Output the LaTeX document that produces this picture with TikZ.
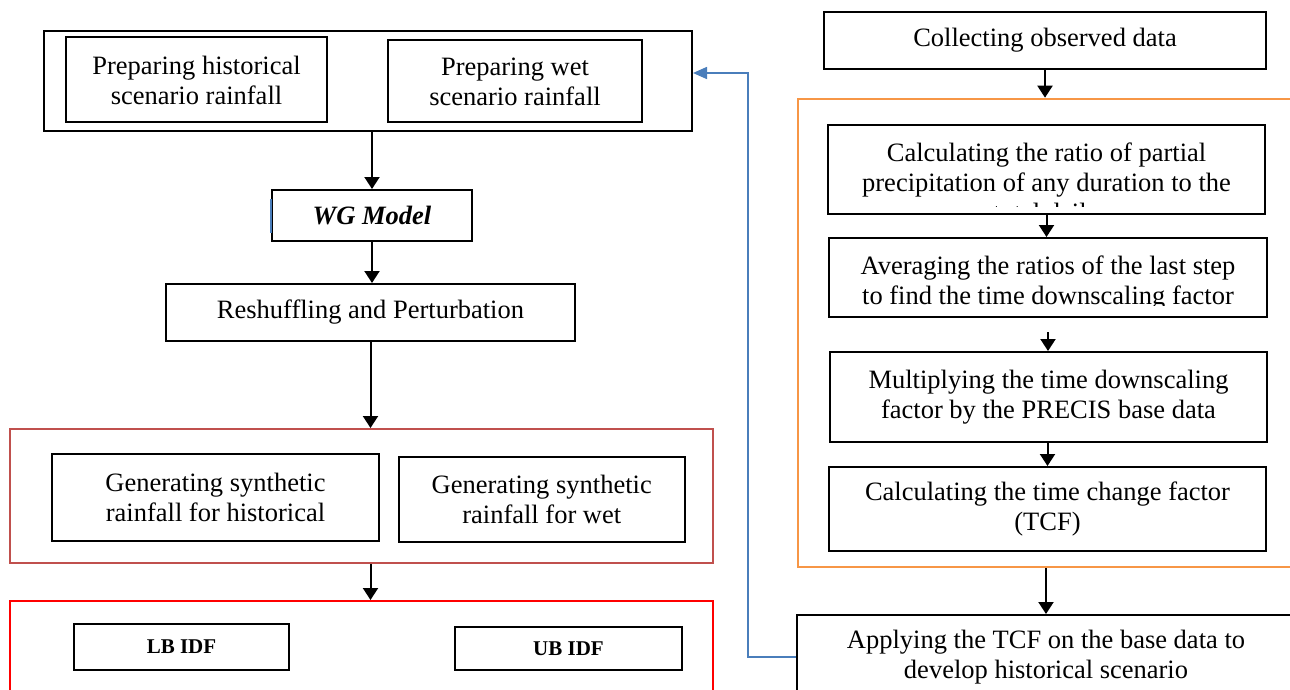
\documentclass[tikz,border=0pt]{standalone}
\usepackage{fontspec}
\setmainfont{Liberation Serif}
\usetikzlibrary{arrows.meta}
\definecolor{wireblue}{HTML}{4A7EBB}
\definecolor{framebrown}{HTML}{C0504D}
\definecolor{frameorange}{HTML}{F79646}

\begin{document}
\begin{tikzpicture}[x=0.5pt,y=-0.5pt,
  font=\fontsize{13.25}{15}\selectfont,
  box/.style={draw, line width=1pt, align=center, inner sep=0pt},
  frame/.style={draw, line width=1pt, inner sep=0pt},
  idf/.style={box, font=\fontsize{10.5}{12}\selectfont\bfseries},
  flow/.style={-{Triangle[length=6pt,width=7.5pt]}, line width=1pt},
  feedback/.style={-{Triangle[length=7pt,width=6pt]}, line width=0.8pt, draw=wireblue}]
\useasboundingbox (0,0) rectangle (1290,690);
\clip (0,0) rectangle (1290,690);

% left column
\node[frame, minimum width=324pt, minimum height=50pt] (frameTop) at (368,81) {};
\node[box, minimum width=130.5pt, minimum height=42.5pt] (prepHist) at (196.5,80) {Preparing historical\\scenario rainfall};
\node[box, minimum width=127pt, minimum height=41pt] (prepWet) at (515,81.5) {Preparing wet\\scenario rainfall};

\node[box, minimum width=99.75pt, minimum height=25.5pt] (wg) at (372,215.5) {\textbf{\textit{WG Model}}};
\draw[wireblue, line width=1pt] ([yshift=-5pt]wg.north west) -- ([yshift=4.5pt]wg.south west);

\node[box, minimum width=204.5pt, minimum height=28.5pt] (resh) at (370.5,312.5) {Reshuffling and Perturbation};

\node[frame, draw=framebrown, minimum width=351.5pt, minimum height=67pt] (frameGen) at (361.5,496) {};
\node[box, minimum width=163.5pt, minimum height=43.5pt] (genHist) at (215.5,497.5) {Generating synthetic\\rainfall for historical};
\node[box, minimum width=143.25pt, minimum height=42.5pt] (genWet) at (541.75,499.5) {Generating synthetic\\rainfall for wet};

\node[frame, draw=red, minimum width=351.5pt, minimum height=69.5pt] (frameIdf) at (361.5,670.5) {};
\node[idf, minimum width=107.5pt, minimum height=23pt] (lb) at (181.5,647) {LB IDF};
\node[idf, minimum width=113.5pt, minimum height=21.5pt] (ub) at (568.5,648.5) {UB IDF};

\draw[flow] (wg.north |- frameTop.south) -- (wg.north);
\draw[flow] (wg.south) -- (wg.south |- resh.north);
\draw[flow] (resh.south) -- (resh.south |- frameGen.north);
\draw[flow] (frameGen.south -| resh.south) -- (resh.south |- frameIdf.north);

% right column
\node[box, minimum width=221pt, minimum height=28.5pt] (collect) at (1045,40.5) {Collecting observed data};
\node[frame, draw=frameorange, minimum width=256pt, minimum height=234.15pt] (frameCalc) at (1054,332.85) {};

\node[box, minimum width=218.5pt, minimum height=44.5pt] (calcRatio) at (1046.5,169.5) {};
\begin{scope}
\clip (828,125) rectangle (1265,206);
\node[align=center, inner sep=0pt, anchor=north] (calcRatioTxt) at (1046.5,142) {Calculating the ratio of partial\\precipitation of any duration to the\\total daily};
\end{scope}

\node[box, minimum width=219pt, minimum height=39.5pt] (avgRatio) at (1048,277.5) {};
\begin{scope}
\clip (829,238) rectangle (1267,305);
\node[align=center, inner sep=0pt, anchor=north] (avgRatioTxt) at (1048,255) {Averaging the ratios of the last step\\to find the time downscaling factor};
\end{scope}

\node[box, minimum width=218.5pt, minimum height=45pt] (multi) at (1048.5,397) {Multiplying the time downscaling\\factor by the PRECIS base data};
\node[box, minimum width=218.5pt, minimum height=42pt] (calcTcf) at (1047.5,509) {Calculating the time change factor\\(TCF)};
\node[box, minimum width=249pt, minimum height=42pt] (apply) at (1046,657) {Applying the TCF on the base data to\\develop historical scenario};

\draw[flow] (collect.south) -- (collect.south |- frameCalc.north);
\draw[flow] (calcRatio.south) -- (calcRatio.south |- avgRatio.north);
\draw[flow] ([yshift=-7pt]avgRatio.south) -- (avgRatio.south |- multi.north);
\draw[flow] (calcTcf.north |- multi.south) -- (calcTcf.north);
\draw[flow] (apply.north |- frameCalc.south) -- (apply.north);

% feedback to the scenarios
\coordinate (fb) at (748,73);
\draw[feedback] (apply.west) -| (fb) -- (frameTop.east |- fb);
\end{tikzpicture}
\end{document}
